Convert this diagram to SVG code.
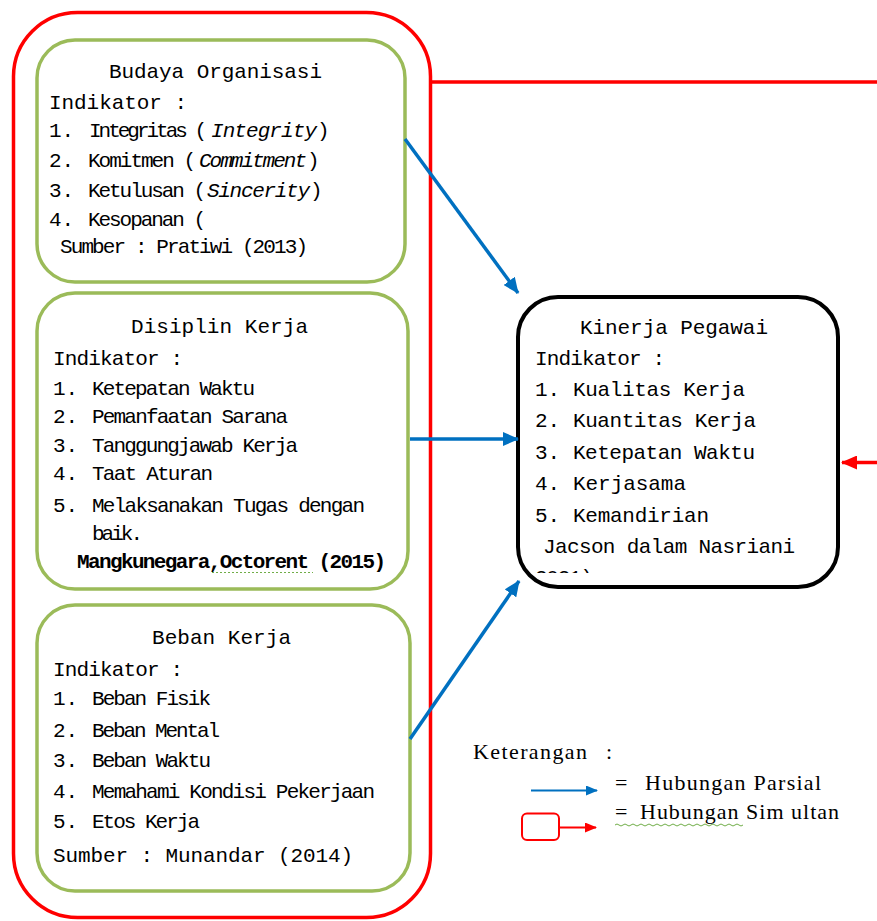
<svg xmlns="http://www.w3.org/2000/svg" width="877" height="921" viewBox="0 0 877 921">
<style>
.t{font-family:"Liberation Mono","DejaVu Sans Mono",monospace;font-size:21px;fill:#000}
.s{font-family:"Liberation Serif","Times New Roman",serif;font-size:22px;fill:#000}
.g{fill:#fff;stroke:#9BBB59;stroke-width:3.5}
.k{fill:#fff;stroke:#000;stroke-width:4}
.r{fill:none;stroke:#FF0000;stroke-width:3.5}
.b{fill:none;stroke:#0070C0;stroke-width:3.5}
.i{font-style:italic}
</style>
<defs>
<marker id="ab" markerUnits="userSpaceOnUse" markerWidth="16" markerHeight="14" refX="15" refY="7" orient="auto">
<path d="M0,0 L16,7 L0,14 Z" fill="#0070C0"/>
</marker>
<marker id="ar" markerUnits="userSpaceOnUse" markerWidth="16" markerHeight="14" refX="15" refY="7" orient="auto">
<path d="M0,0 L16,7 L0,14 Z" fill="#FF0000"/>
</marker>
<marker id="abs" markerUnits="userSpaceOnUse" markerWidth="12" markerHeight="10" refX="11" refY="5" orient="auto">
<path d="M0,0 L12,5 L0,10 Z" fill="#0070C0"/>
</marker>
<marker id="ars" markerUnits="userSpaceOnUse" markerWidth="12" markerHeight="10" refX="11" refY="5" orient="auto">
<path d="M0,0 L12,5 L0,10 Z" fill="#FF0000"/>
</marker>
<clipPath id="kc"><rect x="520" y="300" width="316" height="273"/></clipPath>
</defs>
<rect width="877" height="921" fill="#fff"/>

<g id="outer">
<rect class="r" x="13.5" y="12.5" width="417" height="905" rx="64"/>
</g>

<g id="budaya">
<rect class="g" x="37" y="40" width="368" height="242" rx="38"/>
<text class="t" x="109" y="78" textLength="213">Budaya Organisasi</text>
<text class="t" x="49" y="109" textLength="138">Indikator :</text>
<text class="t" x="49" y="137">1.</text>
<text class="t" x="89" y="137" textLength="118">Integritas (</text>
<text class="t i" x="211" y="137" textLength="106">Integrity</text>
<text class="t" x="317" y="137">)</text>
<text class="t" x="49" y="167">2.</text>
<text class="t" x="88" y="167" textLength="108">Komitmen (</text>
<text class="t i" x="199" y="167" textLength="108">Commitment</text>
<text class="t" x="307" y="167">)</text>
<text class="t" x="49" y="197">3.</text>
<text class="t" x="88" y="197" textLength="118">Ketulusan (</text>
<text class="t i" x="207" y="197" textLength="103">Sincerity</text>
<text class="t" x="310" y="197">)</text>
<text class="t" x="49" y="226">4.</text>
<text class="t" x="88" y="226" textLength="118">Kesopanan (</text>
<text class="t" x="60" y="253" textLength="248">Sumber : Pratiwi (2013)</text>
</g>

<g id="disiplin">
<rect class="g" x="37" y="293" width="371" height="296" rx="38"/>
<text class="t" x="131" y="333" textLength="177">Disiplin Kerja</text>
<text class="t" x="53" y="365" textLength="130">Indikator :</text>
<text class="t" x="53" y="395">1.</text>
<text class="t" x="92" y="395" textLength="163">Ketepatan Waktu</text>
<text class="t" x="53" y="423">2.</text>
<text class="t" x="92" y="423" textLength="196">Pemanfaatan Sarana</text>
<text class="t" x="53" y="452">3.</text>
<text class="t" x="92" y="452" textLength="206">Tanggungjawab Kerja</text>
<text class="t" x="53" y="480">4.</text>
<text class="t" x="92" y="480" textLength="121">Taat Aturan</text>
<text class="t" x="53" y="512">5.</text>
<text class="t" x="92" y="512" textLength="273">Melaksanakan Tugas dengan</text>
<text class="t" x="92" y="540" textLength="51">baik.</text>
<text class="t" x="77" y="568" textLength="309" font-weight="bold">Mangkunegara,Octorent (2015)</text>
<line x1="212" y1="572.5" x2="313" y2="572.5" stroke="#70AD47" stroke-width="1.2" stroke-dasharray="2,2"/>
</g>

<g id="beban">
<rect class="g" x="37" y="605" width="373" height="286" rx="38"/>
<text class="t" x="152" y="644" textLength="139">Beban Kerja</text>
<text class="t" x="53" y="676" textLength="130">Indikator :</text>
<text class="t" x="53" y="705">1.</text>
<text class="t" x="92" y="705" textLength="119">Beban Fisik</text>
<text class="t" x="53" y="737">2.</text>
<text class="t" x="92" y="737" textLength="128">Beban Mental</text>
<text class="t" x="53" y="767">3.</text>
<text class="t" x="92" y="767" textLength="119">Beban Waktu</text>
<text class="t" x="53" y="798">4.</text>
<text class="t" x="92" y="798" textLength="283">Memahami Kondisi Pekerjaan</text>
<text class="t" x="53" y="828">5.</text>
<text class="t" x="92" y="828" textLength="108">Etos Kerja</text>
<text class="t" x="53" y="862" textLength="300">Sumber : Munandar (2014)</text>
</g>

<g id="kinerja">
<rect class="k" x="518" y="297" width="320" height="290" rx="40"/>
<text class="t" x="580" y="334" textLength="188">Kinerja Pegawai</text>
<text class="t" x="535" y="365" textLength="130">Indikator :</text>
<text class="t" x="535" y="396">1.</text>
<text class="t" x="573" y="396" textLength="172">Kualitas Kerja</text>
<text class="t" x="535" y="427">2.</text>
<text class="t" x="573" y="427" textLength="183">Kuantitas Kerja</text>
<text class="t" x="535" y="459">3.</text>
<text class="t" x="573" y="459" textLength="182">Ketepatan Waktu</text>
<text class="t" x="535" y="490">4.</text>
<text class="t" x="573" y="490" textLength="113">Kerjasama</text>
<text class="t" x="535" y="522">5.</text>
<text class="t" x="573" y="522" textLength="136">Kemandirian</text>
<text class="t" x="543" y="553" textLength="252">Jacson dalam Nasriani</text>
<text class="t" x="535" y="584" textLength="58" clip-path="url(#kc)">2021)</text>
</g>

<g id="connectors">
<line class="b" x1="405" y1="139" x2="518" y2="293" marker-end="url(#ab)"/>
<line class="b" x1="410" y1="439" x2="518" y2="439" marker-end="url(#ab)"/>
<line class="b" x1="410" y1="739" x2="519" y2="581" marker-end="url(#ab)"/>
<path class="r" d="M431,82 H885 V462.5 H842" marker-end="url(#ar)"/>
</g>

<g id="legend">
<text class="s" x="473" y="759" textLength="114">Keterangan</text>
<text class="s" x="606" y="759">:</text>
<line x1="531" y1="790.5" x2="597" y2="790.5" stroke="#0070C0" stroke-width="2" marker-end="url(#abs)"/>
<text class="s" x="615" y="790">=</text>
<text class="s" x="645" y="790" textLength="176">Hubungan Parsial</text>
<rect x="522" y="813.5" width="37" height="26.5" rx="5" fill="none" stroke="#FF0000" stroke-width="2"/>
<line x1="559" y1="827.5" x2="596" y2="827.5" stroke="#FF0000" stroke-width="2" marker-end="url(#ars)"/>
<text class="s" x="615" y="819">=</text>
<text class="s" x="640" y="819" textLength="199">Hubungan Sim ultan</text>
<path d="M615,825 q2,-2 4,0 t4,0 t4,0 t4,0 t4,0 t4,0 t4,0 t4,0 t4,0 t4,0 t4,0 t4,0 t4,0 t4,0 t4,0 t4,0 t4,0 t4,0 t4,0 t4,0 t4,0 t4,0 t4,0 t4,0 t4,0 t4,0 t4,0 t4,0 t4,0 t4,0 t4,0 t4,0" fill="none" stroke="#70AD47" stroke-width="1"/>
</g>
</svg>
